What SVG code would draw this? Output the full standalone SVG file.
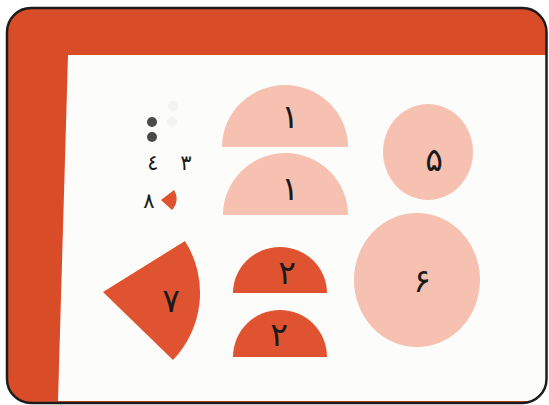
<svg xmlns="http://www.w3.org/2000/svg" width="549" height="405" viewBox="0 0 549 405">
<defs>
<clipPath id="frame"><rect x="7" y="8" width="539.5" height="395" rx="24" ry="24"/></clipPath>
<style>
.dark{fill:#df5330}
.pink{fill:#f6c1b1}
.num{font-family:"DejaVu Sans","Noto Sans",sans-serif;font-size:33px;fill:#1a1a1a;text-anchor:middle}
.sm{font-size:21px}
</style>
</defs>
<g clip-path="url(#frame)">
<rect x="0" y="0" width="549" height="405" fill="#d94c28"/>
<polygon id="paper" points="68,55 547,55 547,401 58,401" fill="#fcfdfb"/>
</g>
<rect x="7" y="8" width="539.5" height="395" rx="24" ry="24" fill="none" stroke="#1c1c1c" stroke-width="2.5"/>

<g id="half1a"><path class="pink" d="M222,147 A63,62 0 0 1 348,147 Z"/><text class="num" x="290" y="128">۱</text></g>
<g id="half1b"><path class="pink" d="M223,215 A62.5,62 0 0 1 348,215 Z"/><text class="num" x="290" y="200">۱</text></g>
<g id="circle5"><ellipse class="pink" cx="428" cy="152" rx="45" ry="48"/><text class="num" x="434" y="171">۵</text></g>
<g id="circle6"><ellipse class="pink" cx="417" cy="280" rx="63" ry="67"/><text class="num" x="422" y="292">۶</text></g>
<g id="half2a"><path class="dark" d="M233,293 A47,46 0 0 1 327,293 Z"/><text class="num" x="287" y="284">۲</text></g>
<g id="half2b"><path class="dark" d="M233,357 A47,47 0 0 1 327,357 Z"/><text class="num" x="279" y="346">۲</text></g>
<g id="sector7"><path class="dark" d="M103,292 L185,241 A97,97 0 0 1 173,360 Z"/><text class="num" x="171" y="312">۷</text></g>
<g id="sector8"><path class="dark" d="M161,200 L174,190 A16,16 0 0 1 172,210 Z"/><text class="num sm" x="149" y="208">۸</text></g>
<g id="dots4"><circle cx="152" cy="122" r="5" fill="#4a4a4a"/><circle cx="152" cy="137" r="5" fill="#4a4a4a"/><text class="num sm" x="153" y="170">٤</text></g>
<g id="dots3"><circle cx="173" cy="106" r="5" fill="#f3f3f1"/><circle cx="172" cy="122" r="5" fill="#f3f3f1"/><text class="num sm" x="186" y="170">۳</text></g>
</svg>
